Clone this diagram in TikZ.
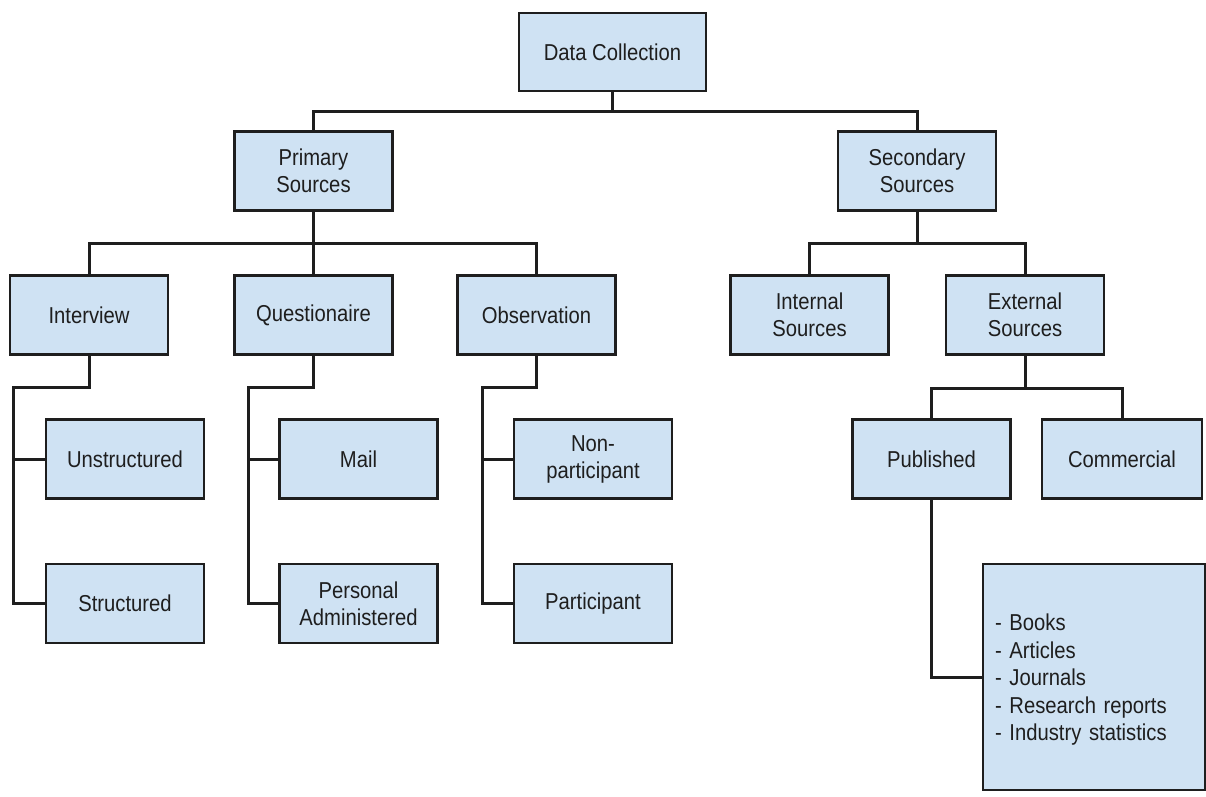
\documentclass[tikz,border=0pt]{standalone}
\usepackage{fontspec}
\setmainfont[FakeStretch=0.88]{Liberation Sans}
\definecolor{boxblue}{HTML}{CFE2F3}
\definecolor{ink}{HTML}{1E1E1E}
\begin{document}
\begin{tikzpicture}[x=1pt,y=-1pt,
  box/.style={draw=ink, fill=boxblue, line width=2.8pt, minimum width=158pt, minimum height=79pt,
    align=center, inner sep=0pt, font=\fontsize{23}{27}\selectfont, text=ink},
  conn/.style={draw=ink, line width=3pt}]
\useasboundingbox[fill=white] (0,0) rectangle (1206,796);

% level 0
\node[box, minimum width=187pt, minimum height=78pt] (dc) at (612.5,52) {Data Collection};
% level 1
\node[box] (prim) at (313.5,171) {Primary\\Sources};
\node[box] (sec) at (917,171) {Secondary\\Sources};
% level 2
\node[box] (int) at (89,315) {Interview};
\node[box] (que) at (313.5,315) {Questionaire};
\node[box] (obs) at (536.5,315) {Observation};
\node[box] (isrc) at (809.5,315) {Internal\\Sources};
\node[box] (esrc) at (1025,315) {External\\Sources};
% level 3
\node[box] (unst) at (125,459) {Unstructured};
\node[box] (stru) at (125,603.5) {Structured};
\node[box] (mail) at (358.5,459) {Mail};
\node[box] (pers) at (358.5,603.5) {Personal\\Administered};
\node[box] (nonp) at (593,459) {Non-\\participant};
\node[box] (part) at (593,603.5) {Participant};
\node[box] (pub) at (931.5,459) {Published};
\node[box, minimum width=160pt] (com) at (1122,459) {Commercial};
\node[box, minimum width=222pt, minimum height=226pt, text width=198pt, align=left,
  font=\fontsize{23}{27.5}\selectfont] (list) at (1094,677)
  {\rule{0pt}{22pt}- Books\\- Articles\\- Journals\\- Research reports\\- Industry statistics};

% junction coordinates
\coordinate (j0) at (612.5,111);
\coordinate (j1) at (313.5,243);
\coordinate (j2) at (917,243);
\coordinate (jint) at (13,387);
\coordinate (jque) at (248,387);
\coordinate (jobs) at (482,387);
\coordinate (jext) at (1025,388);

% connectors
\draw[conn] (dc.south) -- (j0);
\draw[conn] (prim.north) |- (j0) -| (sec.north);

\draw[conn] (prim.south) -- (j1);
\draw[conn] (int.north) |- (j1) -| (obs.north);
\draw[conn] (j1) -- (que.north);

\draw[conn] (sec.south) -- (j2);
\draw[conn] (isrc.north) |- (j2) -| (esrc.north);

\draw[conn] (int.south) |- (jint) |- (stru.west);
\draw[conn] (jint |- unst.west) -- (unst.west);

\draw[conn] (que.south) |- (jque) |- (pers.west);
\draw[conn] (jque |- mail.west) -- (mail.west);

\draw[conn] (obs.south) |- (jobs) |- (part.west);
\draw[conn] (jobs |- nonp.west) -- (nonp.west);

\draw[conn] (esrc.south) -- (jext);
\draw[conn] (pub.north) |- (jext) -| (com.north);

\draw[conn] (pub.south) |- (list.west);
\end{tikzpicture}
\end{document}
